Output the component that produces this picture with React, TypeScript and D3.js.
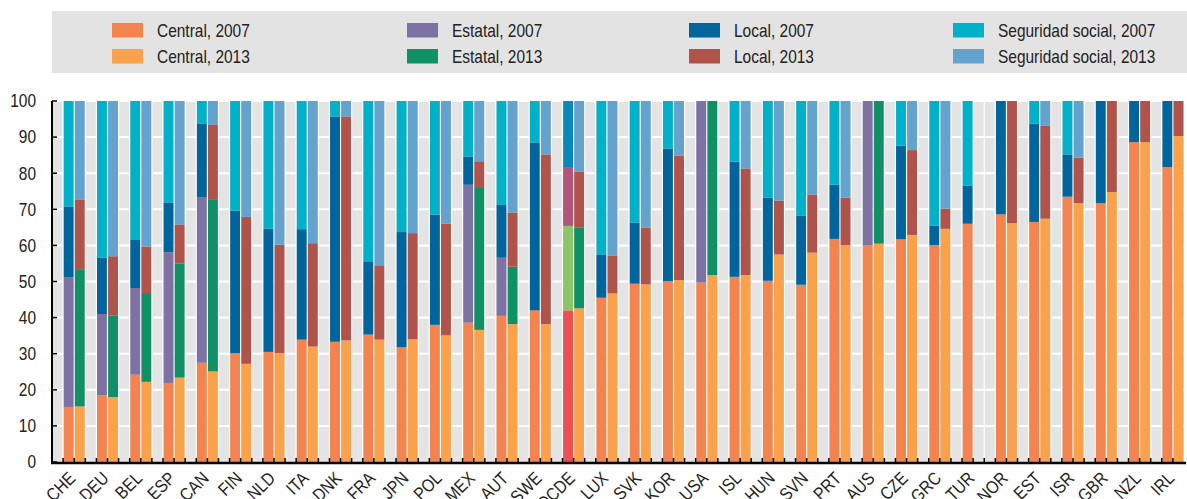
import React, { useEffect, useRef } from 'react';
import * as d3 from 'd3';

const countries = ['CHE', 'DEU', 'BEL', 'ESP', 'CAN', 'FIN', 'NLD', 'ITA', 'DNK', 'FRA', 'JPN', 'POL', 'MEX', 'AUT', 'SWE', 'OCDE', 'LUX', 'SVK', 'KOR', 'USA', 'ISL', 'HUN', 'SVN', 'PRT', 'AUS', 'CZE', 'GRC', 'TUR', 'NOR', 'EST', 'ISR', 'GBR', 'NZL', 'IRL'];

// shares (%) of each level of government, 2007 and 2013 (null = not available)
const central2007 = [15.2, 18.5, 24.2, 21.9, 27.5, 30.1, 30.5, 33.9, 33.3, 35.3, 31.8, 38.0, 38.6, 40.5, 42.0, 42.0, 45.5, 49.4, 50.1, 49.7, 51.3, 50.2, 49.1, 61.8, 60.1, 61.7, 60.1, 66.0, 68.6, 66.5, 73.5, 71.7, 88.6, 81.7];
const estatal2007 = [36.0, 22.5, 24.0, 36.2, 45.9, 0, 0, 0, 0, 0, 0, 0, 38.2, 16.1, 0, 23.4, 0, 0, 0, 50.3, 0, 0, 0, 0, 39.9, 0, 0, 0, 0, 0, 0, 0, 0, 0];
const local2007 = [19.6, 15.6, 13.3, 13.8, 20.4, 39.5, 34.1, 30.6, 62.4, 20.3, 31.9, 30.5, 7.8, 14.6, 46.5, 16.3, 12.0, 16.9, 36.7, 0, 31.9, 23.0, 19.2, 15.0, 0, 25.9, 5.4, 10.6, 31.4, 27.2, 11.7, 28.3, 11.4, 18.3];
const seguridad2007 = [29.2, 43.4, 38.5, 28.1, 6.2, 30.4, 35.4, 35.5, 4.3, 44.4, 36.3, 31.5, 15.4, 28.8, 11.5, 18.3, 42.5, 33.7, 13.2, 0, 16.8, 26.8, 31.7, 23.2, 0, 12.4, 34.5, 23.4, 0, 6.3, 14.8, 0, 0, 0];

const central2013 = [15.4, 18.0, 22.2, 23.4, 25.1, 27.2, 30.2, 32.0, 33.7, 33.9, 34.0, 35.1, 36.6, 38.2, 38.2, 42.6, 46.7, 49.2, 50.4, 51.8, 51.8, 57.5, 58.0, 60.1, 60.5, 62.9, 64.6, null, 66.2, 67.4, 71.7, 74.8, 88.6, 90.3];
const estatal2013 = [37.8, 22.6, 24.6, 31.6, 47.7, 0, 0, 0, 0, 0, 0, 0, 39.3, 15.9, 0, 22.3, 0, 0, 0, 48.2, 0, 0, 0, 0, 39.5, 0, 0, null, 0, 0, 0, 0, 0, 0];
const local2013 = [19.4, 16.4, 12.9, 10.8, 20.7, 40.7, 30.0, 28.6, 62.0, 20.4, 29.4, 30.9, 7.4, 15.0, 47.0, 15.5, 10.5, 15.7, 34.5, 0, 29.5, 14.9, 16.1, 13.1, 0, 23.5, 5.6, null, 33.8, 25.8, 12.6, 25.2, 11.4, 9.7];
const seguridad2013 = [27.4, 43.0, 40.3, 34.2, 6.5, 32.1, 39.8, 39.4, 4.3, 45.7, 36.6, 34.0, 16.7, 30.9, 14.8, 19.6, 42.8, 35.1, 15.1, 0, 18.7, 27.6, 25.9, 26.8, 0, 13.6, 29.8, null, 0, 6.8, 15.7, 0, 0, 0];

const yTicks = [0, 10, 20, 30, 40, 50, 60, 70, 80, 90, 100];

const legendItems = [
  ['Central, 2007', '#f4844f'], ['Estatal, 2007', '#7e72a5'], ['Local, 2007', '#00659c'], ['Seguridad social, 2007', '#00b1c9'],
  ['Central, 2013', '#f9a24b'], ['Estatal, 2013', '#0f9165'], ['Local, 2013', '#b0534b'], ['Seguridad social, 2013', '#64a3cd'],
];

const colors2007 = ['#f4844f', '#7e72a5', '#00659c', '#00b1c9'];
const colors2013 = ['#f9a24b', '#0f9165', '#b0534b', '#64a3cd'];
const colorsOcde = ['#ee4f51', '#8bc666', '#b5527a', '#0b87bf'];

// no narrow face installed, so squeeze Liberation Sans horizontally
const FONT = '"Liberation Sans", Arial, sans-serif';
const NARROW = 0.86;
const W = 1187;
const H = 499;

export default function App() {
  const svgRef = useRef<SVGSVGElement>(null);

  useEffect(() => {
    document.body.style.margin = '0';
    if (!svgRef.current) return;
    const svg = d3.select(svgRef.current);
    svg.selectAll('*').remove();

    const left = 52, right = 1184, top = 101, bottom = 462;
    // one empty slot before each country, then 2007 and 2013 (no trailing gap after the last one)
    const nSlots = countries.length * 3;
    const x = d3.scaleLinear().domain([0, nSlots]).range([left, right]);
    const slotW = x(1) - x(0);
    const y = d3.scaleLinear().domain([0, 100]).range([bottom, top]);

    // legend box
    svg.append('rect').attr('x', 52).attr('y', 11).attr('width', W - 52).attr('height', 62).attr('fill', '#e2e3e2');
    const legendX = [112, 407, 689, 953];
    legendItems.forEach(([label, color], i) => {
      const col = i % 4, row = Math.floor(i / 4);
      const gy = 23 + row * 26;
      svg.append('rect').attr('x', legendX[col]).attr('y', gy).attr('width', 31).attr('height', 14.5).attr('fill', color);
      svg.append('text')
        .attr('transform', `translate(${legendX[col] + 45},${gy + 7.5}) scale(${NARROW},1)`)
        .attr('dy', '0.35em')
        .attr('font-family', FONT).attr('font-size', 18).attr('fill', '#222').text(label);
    });

    // plot background
    svg.append('rect').attr('x', left).attr('y', top).attr('width', right - left).attr('height', bottom - top).attr('fill', '#e3e4e3');
    svg.append('g').selectAll('line').data(yTicks.slice(1)).enter().append('line')
      .attr('x1', left).attr('x2', right).attr('y1', d => y(d)).attr('y2', d => y(d))
      .attr('stroke', '#fff').attr('stroke-width', 2);
    svg.append('g').selectAll('line').data(d3.range(1, nSlots)).enter().append('line')
      .attr('x1', d => x(d)).attr('x2', d => x(d)).attr('y1', top).attr('y2', bottom)
      .attr('stroke', '#fff').attr('stroke-width', 1.2);

    // stacked bars
    const bars = svg.append('g');
    countries.forEach((c, i) => {
      const series = [
        { slot: 3 * i + 1, vals: [central2007[i], estatal2007[i], local2007[i], seguridad2007[i]], cols: c === 'OCDE' ? colorsOcde : colors2007 },
        { slot: 3 * i + 2, vals: [central2013[i], estatal2013[i], local2013[i], seguridad2013[i]], cols: colors2013 },
      ];
      series.forEach(s => {
        if (s.vals[0] === null) return;
        let acc = 0;
        s.vals.forEach((v, k) => {
          const val = v as number;
          if (!val) return;
          bars.append('rect')
            .attr('x', x(s.slot) + 0.6).attr('width', slotW - 1.2)
            .attr('y', y(acc + val)).attr('height', y(acc) - y(acc + val))
            .attr('fill', s.cols[k]);
          acc += val;
        });
      });
    });

    // axes
    svg.append('line').attr('x1', left).attr('x2', left).attr('y1', top).attr('y2', bottom + 1)
      .attr('stroke', '#000').attr('stroke-width', 2);
    svg.append('g').selectAll('line').data(yTicks).enter().append('line')
      .attr('x1', left).attr('x2', left + 5).attr('y1', d => y(d)).attr('y2', d => y(d))
      .attr('stroke', '#000').attr('stroke-width', 1.5);
    svg.append('g').selectAll('text').data(yTicks).enter().append('text')
      .attr('transform', d => `translate(36,${y(d)}) scale(${NARROW},1)`)
      .attr('dy', '0.35em').attr('text-anchor', 'end')
      .attr('font-family', FONT).attr('font-size', 18).attr('fill', '#222').text(d => d);

    svg.append('g').selectAll('line').data(d3.range(1, nSlots)).enter().append('line')
      .attr('x1', d => x(d)).attr('x2', d => x(d)).attr('y1', bottom - 4).attr('y2', bottom)
      .attr('stroke', '#000').attr('stroke-width', 1.5);
    svg.append('line').attr('x1', left - 1).attr('x2', right + 2).attr('y1', bottom + 1).attr('y2', bottom + 1)
      .attr('stroke', '#000').attr('stroke-width', 2.5);

    svg.append('g').selectAll('text').data(countries).enter().append('text')
      .attr('transform', (d, i) => `translate(${x(3 * i + 2) - 2},${bottom + 13}) rotate(-45) scale(${NARROW},1)`)
      .attr('text-anchor', 'end').attr('dy', '0.35em')
      .attr('font-family', FONT).attr('font-size', 18).attr('fill', '#222').text(d => d);
  }, []);

  return <svg ref={svgRef} width={W} height={H} style={{ display: 'block', background: '#fff' }} />;
}
